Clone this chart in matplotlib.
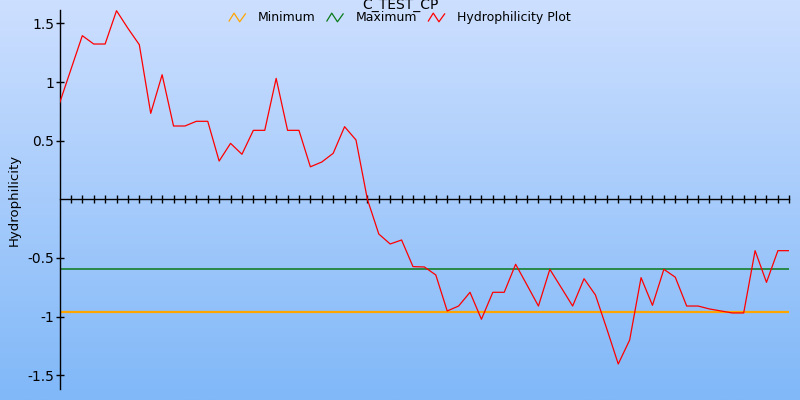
import numpy as np
import matplotlib
matplotlib.use("Agg")
import matplotlib.pyplot as plt
from matplotlib.legend_handler import HandlerBase
from matplotlib.lines import Line2D

# ---- data ----
positions = list(range(0, 65))
hydrophilicity = [
    0.818, 1.107, 1.395, 1.324, 1.324, 1.608, 1.458, 1.318, 0.733, 1.062,
    0.625, 0.625, 0.665, 0.665, 0.326, 0.477, 0.384, 0.588, 0.588, 1.031,
    0.588, 0.588, 0.277, 0.318, 0.392, 0.619, 0.506, 0.000, -0.296, -0.381,
    -0.347, -0.574, -0.577, -0.645, -0.952, -0.910, -0.793, -1.023, -0.793, -0.793,
    -0.554, -0.731, -0.910, -0.597, -0.753, -0.910, -0.677, -0.816, -1.106, -1.404,
    -1.200, -0.668, -0.904, -0.597, -0.664, -0.910, -0.910, -0.935, -0.952, -0.969,
    -0.969, -0.438, -0.708, -0.438, -0.438,
]
minimum_value = -0.963
maximum_value = -0.597
y_tick_values = [1.5, 1.0, 0.5, -0.5, -1.0, -1.5]
y_tick_labels = ["1.5", "1", "0.5", "-0.5", "-1", "-1.5"]
series_names = ["Minimum", "Maximum", "Hydrophilicity Plot"]
series_colors = ["#ffa500", "#0a7a1a", "#ff0000"]
title_text = "C_TEST_CP"
ylabel_text = "Hydrophilicity"

plt.rcParams['font.family'] = ['DejaVu Sans']

fig = plt.figure(figsize=(8, 4), dpi=100)

# background gradient
bg = fig.add_axes([0, 0, 1, 1], zorder=-10)
grad = np.linspace(0, 1, 256).reshape(-1, 1)
top = np.array([0xcd, 0xdf, 0xff]) / 255.0
bot = np.array([0x80, 0xb8, 0xf8]) / 255.0
img = top[None, None, :] * (1 - grad[:, :, None]) + bot[None, None, :] * grad[:, :, None]
bg.imshow(img, aspect='auto', extent=[0, 1, 0, 1], origin='upper')
bg.axis('off')

ax = fig.add_axes([59.5 / 800, 1 - 389.3 / 400, (789.3 - 59.5) / 800, (389.3 - 10) / 400])
ax.patch.set_alpha(0)

ax.axhline(minimum_value, color=series_colors[0], lw=1.6, zorder=2)
ax.axhline(maximum_value, color=series_colors[1], lw=1.1, zorder=2)
ax.plot(positions, hydrophilicity, color=series_colors[2], lw=0.9, zorder=3)

ax.set_xlim(positions[0], positions[-1])
ax.set_ylim(-1.62, 1.614)

for s in ['top', 'right']:
    ax.spines[s].set_visible(False)
ax.spines['bottom'].set_position(('data', 0))
ax.spines['left'].set_linewidth(1.0)
ax.spines['bottom'].set_linewidth(1.0)

ax.set_xticks(positions[1:])
ax.tick_params(axis='x', direction='inout', length=6, width=1.0, labelbottom=False)
ax.set_yticks(y_tick_values)
ax.set_yticklabels(y_tick_labels)
ax.tick_params(axis='y', direction='inout', length=6, width=1.0, labelsize=10, pad=1, colors='black')
ax.set_ylabel(ylabel_text, fontsize=9.5)
ax.yaxis.set_label_coords((21 - 59.5) / 730, 0.5)

fig.text(0.5, 1 - 5.5 / 400, title_text, ha='center', va='center', fontsize=10)


class ZigzagHandler(HandlerBase):
    def create_artists(self, legend, orig_handle, xdescent, ydescent, width, height, fontsize, trans):
        xs = np.array([0.0, 0.3, 0.65, 1.0]) * width - xdescent
        ys = np.array([0.0, 1.0, -0.1, 0.9]) * height * 0.9 - ydescent
        ln = Line2D(xs, ys, color=orig_handle.get_color(), lw=0.9)
        ln.set_transform(trans)
        return [ln]


handles = [Line2D([], [], color=c) for c in series_colors]
leg = fig.legend(handles, series_names, loc='center', bbox_to_anchor=(0.5, 1 - 17.5 / 400),
                 ncol=3, frameon=False, fontsize=9, handlelength=1.3, handletextpad=1.0,
                 columnspacing=0.9, borderpad=0, handler_map={Line2D: ZigzagHandler()})

fig.savefig("out.png", dpi=100)
